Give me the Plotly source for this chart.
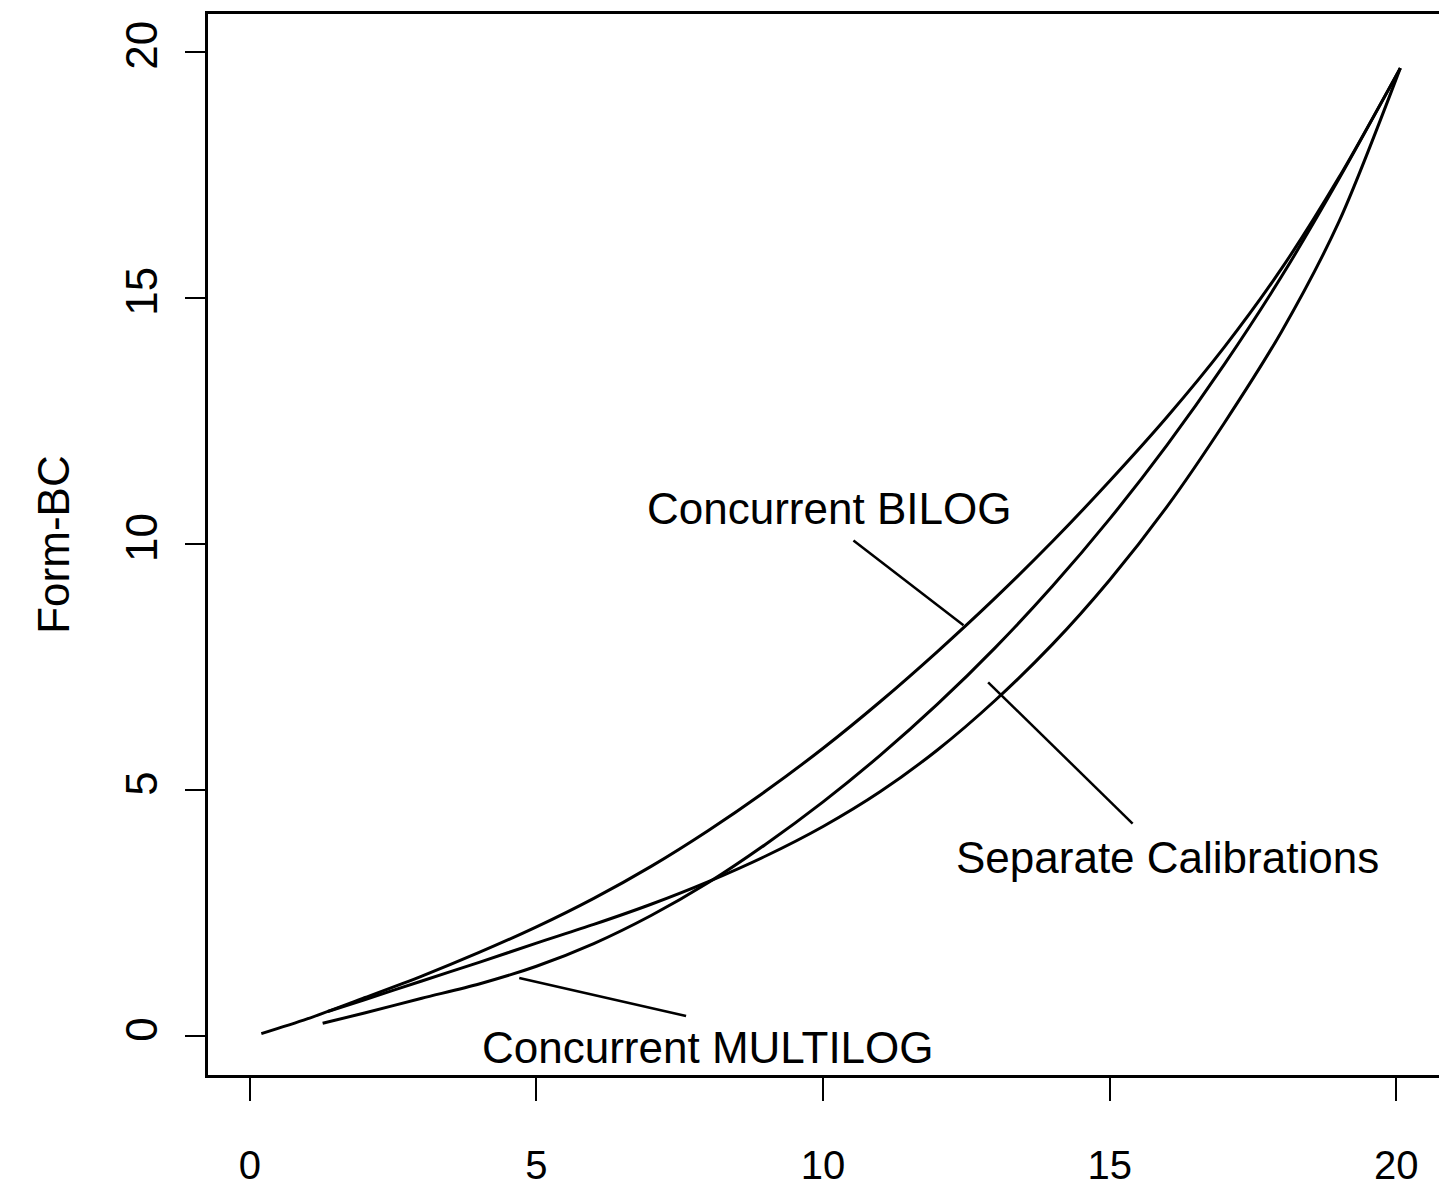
import plotly.graph_objects as go

# ---- data ----
bilog_x = [0.2, 1, 2, 3, 4, 5, 6, 7, 8, 9, 10, 11, 12, 13, 14, 15, 16, 17, 18, 19, 20.07]
bilog_y = [0.05, 0.35, 0.78, 1.22, 1.70, 2.22, 2.80, 3.45, 4.18, 4.98, 5.85, 6.80, 7.82,
           8.90, 10.05, 11.28, 12.58, 14.00, 15.60, 17.45, 19.67]

separate_x = [1.36, 2, 3, 4, 5, 6, 7, 8, 9, 10, 11, 12, 13, 14, 15, 16, 17, 18, 19, 20.07]
separate_y = [0.50, 0.74, 1.12, 1.50, 1.89, 2.27, 2.68, 3.14, 3.66, 4.26, 4.97, 5.82, 6.82,
              7.96, 9.27, 10.76, 12.46, 14.32, 16.55, 19.67]

multilog_x = [1.27, 2, 3, 4, 5, 6, 7, 8, 9, 10, 11, 12, 13, 14, 15, 16, 17, 18, 19, 20.07]
multilog_y = [0.26, 0.47, 0.77, 1.06, 1.42, 1.88, 2.45, 3.12, 3.90, 4.76, 5.71, 6.75, 7.89,
              9.14, 10.51, 12.01, 13.65, 15.44, 17.42, 19.67]

tick_vals = [0, 5, 10, 15, 20]
tick_text = ["0", "5", "10", "15", "20"]

labels = ["Concurrent BILOG", "Separate Calibrations", "Concurrent MULTILOG"]
y_title = "Form-BC"

FONT = "Liberation Sans, Arial, Helvetica, sans-serif"
LINE = dict(color="black", width=3, shape="spline", smoothing=0.8)

fig = go.Figure()
for xs, ys, name in [(bilog_x, bilog_y, labels[0]),
                     (separate_x, separate_y, labels[1]),
                     (multilog_x, multilog_y, labels[2])]:
    fig.add_trace(go.Scatter(x=xs, y=ys, mode="lines", line=LINE, name=name,
                             showlegend=False, hoverinfo="skip"))

# curve labels with leader lines
label_pos = [(10.1, 10.72), (16.0, 3.63), (8.0, -0.24)]
leaders = [((10.53, 10.07), (12.45, 8.35)),
           ((12.88, 7.19), (15.40, 4.32)),
           ((4.70, 1.18), (7.61, 0.41))]
for text, (tx, ty), ((x0, y0), (x1, y1)) in zip(labels, label_pos, leaders):
    fig.add_annotation(x=tx, y=ty, text=text, showarrow=False, xref="x", yref="y",
                       font=dict(family=FONT, size=44, color="black"),
                       xanchor="center", yanchor="middle")
    fig.add_shape(type="line", x0=x0, y0=y0, x1=x1, y1=y1, xref="x", yref="y",
                  line=dict(color="black", width=2.5))

fig.add_annotation(x=-0.1255, y=0.5, xref="paper", yref="paper", text=y_title,
                   showarrow=False, textangle=-90,
                   font=dict(family=FONT, size=44, color="black"),
                   xanchor="center", yanchor="middle")

axis_common = dict(showline=True, linecolor="black", linewidth=3, mirror=True,
                   ticks="outside", tickwidth=2, tickcolor="black",
                   showgrid=False, zeroline=False,
                   tickvals=tick_vals, ticktext=tick_text)

# the page body adds an 8px offset; the figure is sized to fill the window exactly
fig.update_layout(
    width=1439, height=1190,
    margin=dict(l=200, r=3, t=5, b=123),
    paper_bgcolor="white", plot_bgcolor="white",
    xaxis=dict(range=[-0.73, 20.78], ticklen=23, ticklabelstandoff=30,
               tickfont=dict(family=FONT, size=40, color="black"), **axis_common),
    yaxis=dict(range=[-0.79, 20.77], ticklen=20, tickangle=-90, ticklabelstandoff=10,
               tickfont=dict(family=FONT, size=44, color="black"), **axis_common),
)

fig.write_html("out.html")
